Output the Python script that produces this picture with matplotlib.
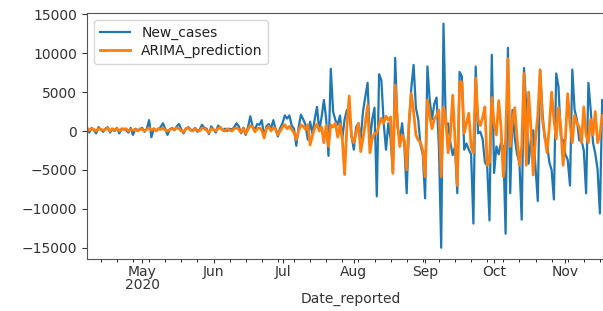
import matplotlib
matplotlib.use("Agg")
import matplotlib.pyplot as plt
import matplotlib.dates as mdates
import numpy as np
import pandas as pd

start_date = "2020-04-07"

new_cases = [
    300, -200, 400, 100, -300, 500, 200,
    -100, 300, 500, -200, 200, 0, 400,
    -300, 200, 300, 100, -200, 400, -500,
    300, 100, 200, 400, -100, 300, 1400,
    -800, 300, 100, 200, 500, 1000, 300,
    -500, 200, 400, 100, 600, 900, 200,
    -300, 300, 500, 200, 100, 400, -100,
    200, 800, 400, 300, -400, 600, 200,
    -200, 700, 400, 100, 300, 0, 300,
    200, 500, 1000, 600, -300, 400, -500,
    500, 1900, 600, 200, 900, 800, 1400,
    -800, 600, 900, 300, 1400, 200, -700,
    400, 1000, 2000, 1600, 2000, 700, 300,
    -1900, 500, 2100, 1500, 800, -1100, 1200,
    -300, 1500, 3100, 100, 1800, 4000, 1500,
    -3200, 8000, 2500, 1400, 800, 2000, -1000,
    1500, 2700, 2700, -600, -2400, 500, 1000,
    -1000, 2500, 4400, 6200, -1500, 1500, 3000,
    -8400, 7300, 6500, 1000, -2400, 1000, -1000,
    -5400, 9400, 500, -1200, 1000, -2000, -8000,
    1000, 5500, 8500, 3000, 1500, -1800, -3000,
    -8650, 8300, 4000, 1500, 3500, 4300, -2000,
    -15000, 13800, 800, 1000, -1500, -3100, -2000,
    -8000, 7600, 7000, -2400, -1600, -2400, -3000,
    -11900, 8300, -300, -100, -1000, -4000, -4500,
    -11500, 9800, -5400, -2000, -3000, -1500, -2000,
    -13200, 10700, -8000, 2700, -1000, -3000, -4000,
    -11400, 8100, 3100, -4200, -1000, 100, -4700,
    -9000, 7900, 2500, -1000, -1600, -4000, -5000,
    -8800, 7400, 5700, -700, -1200, -3000, -3700,
    -7000, 7900, 2700, 1500, -1200, -1200, -2500,
    -8000, 6200, 2700, -1500, -2900, -5000, -10600,
    4000, 2000, -1000, -2000, -3000, -4000,
]

arima_prediction = [
    400, 100, 300, 200, 0, 300, 200,
    100, 200, 400, 0, 300, 100, 300,
    0, 300, 200, 300, 0, 200, 100,
    200, 0, 300, 200, 0, 200, 400,
    100, 300, 0, 300, 200, 400, 100,
    0, 200, 300, 200, 400, 300, 0,
    -100, 300, 400, 100, 0, 300, 100,
    0, 400, 300, 100, -200, 300, 200,
    0, 300, 500, 100, 0, 300, 100,
    0, 300, 400, 200, -200, 400, -300,
    200, 700, 500, -100, 300, 400, 100,
    -900, 300, 600, 0, 400, 300, -500,
    0, 500, 800, 300, 600, 200, -200,
    -1100, 0, 800, 600, 200, 800, -1800,
    -600, 400, 900, 0, 500, -1500, 700,
    -2000, 800, 500, 1000, -800, 900, -1000,
    -5600, 500, 4500, -700, -1500, -200, 1000,
    -2650, -1000, 1000, 3300, -2800, -1000, -300,
    -300, 800, 1650, 1000, 1900, 1400, 1800,
    -5440, 5900, 1000, -2000, -500, -1200, -5000,
    1000, 4840, 2500, -500, -1150, -1500, -2500,
    -5870, 4000, 2000, 300, 1500, 2000, 2700,
    -5870, 3100, 1500, -2800, -500, 4600, -1000,
    -7000, 6300, 6300, -300, 1000, 2300, -2000,
    -2800, 6800, 1500, 700, 1700, 3100, -4400,
    -4000, 4300, 1000, -500, 3900, 500, -5870,
    -1000, 9300, -2000, 1500, 3000, -1000, -4400,
    -2000, 7400, -4400, 5000, 500, -5650, -1000,
    2000, 7800, 1500, -500, -2800, 500, 5000,
    1500, -1000, 3000, 500, -4400, -1000, 4800,
    1000, -1500, 2000, 1000, 500, -1500, 3100,
    -500, -1500, 1500, -500, 2500, -1500, -500,
    2000, 1000, -500, 0, 500, 0,
]

dates = pd.date_range(start_date, periods=len(new_cases), freq="D")

W, H = 603, 311
fig = plt.figure(figsize=(W / 100, H / 100), dpi=100)
x0 = 87
x_end = x0 + (len(new_cases) - 1) * 2.3
ax = fig.add_axes([x0 / W, 1 - 259 / H, (x_end - x0) / W, (259 - 13) / H])

ax.plot(dates, new_cases, color="#1f77b4", lw=1.6, label="New_cases")
ax.plot(dates, arima_prediction, color="#ff7f0e", lw=2.0, label="ARIMA_prediction")

ax.set_xlim(dates[0], dates[-1])
ax.set_ylim(-16450, 15170)
ax.set_yticks([-15000, -10000, -5000, 0, 5000, 10000, 15000])

ax.xaxis.set_major_locator(mdates.MonthLocator())
ax.xaxis.set_minor_locator(mdates.WeekdayLocator(byweekday=mdates.MO))

def fmt(x, pos):
    d = mdates.num2date(x)
    if pos == 0:
        return d.strftime("%b\n%Y")
    return d.strftime("%b")

ax.xaxis.set_major_formatter(plt.FuncFormatter(fmt))
ax.tick_params(axis="both", labelsize=10, colors="#333333")
ax.tick_params(axis="x", pad=1.5, length=3)
ax.tick_params(axis="x", which="minor", length=1.8)
fig.canvas.draw()
for lbl in ax.get_xticklabels():
    lbl.set_linespacing(0.85)
for sp in ax.spines.values():
    sp.set_color("#555555")

ax.set_xlabel("Date_reported", fontsize=10, color="#333333", labelpad=0)

leg = ax.legend(loc="upper left", fontsize=10, labelspacing=0.3, handlelength=2.2)
for t in leg.get_texts():
    t.set_color("#222222")

fig.savefig("out.png", dpi=100)
